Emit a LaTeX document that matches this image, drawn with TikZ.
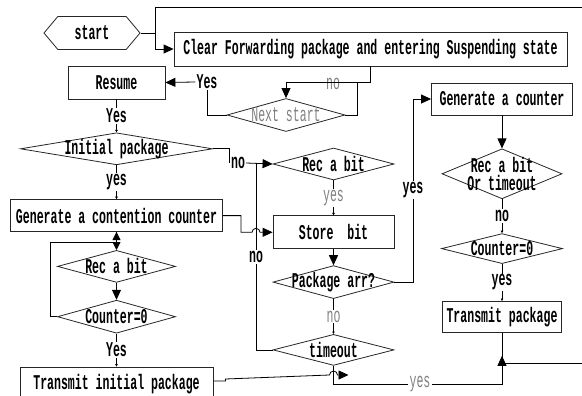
\documentclass[tikz,border=0pt]{standalone}
\usepackage{fontspec}
\setmainfont[FakeStretch=0.55]{Liberation Mono}
\usepackage{tikz}
\usetikzlibrary{arrows.meta,positioning,shapes.geometric,shapes.symbols}

\begin{document}
\begin{tikzpicture}[x=1pt,y=-1pt,font=\fontsize{21}{17}\selectfont\bfseries,>=Triangle]
\tikzset{box/.style={draw=black!85,line width=0.8pt,inner sep=0pt,minimum height=33pt},
  dia/.style={draw=black!85,line width=0.8pt,shape=diamond,inner sep=0pt,minimum width=121pt,minimum height=33pt},
  flow/.style={-{Triangle[length=10pt,width=9pt]},line width=0.8pt},
  tinyarr/.style={-{Triangle[length=2.5pt,width=2.5pt]},line width=0.8pt},
  gtext/.style={text=black!50,font=\fontsize{21}{17}\selectfont\mdseries},
  lbl/.style={fill=white,inner sep=1pt},
  glbl/.style={lbl,gtext}}
\useasboundingbox (0,0) rectangle (582,396);
% top row
\node[draw=black!85,line width=0.8pt,signal,signal to=west and east,signal pointer angle=100,inner sep=0pt,minimum width=96pt,minimum height=33pt] (start) at (92,33) {start};
\node[box,minimum width=393pt,minimum height=34pt] (clear) at (370.5,49) {Clear Forwarding package and entering Suspending state};
\node[box,minimum width=97pt] (resume) at (116.5,82.5) {Resume};
\node[dia,minimum width=118pt,label={[gtext]center:Next start}] (next) at (286,115) {};
% left column
\node[dia,minimum width=192pt,minimum height=32pt,below=33pt of resume,label=center:Initial package] (init) {};
\node[box,minimum width=212pt,minimum height=32pt,below=34pt of init] (cont) {Generate a contention counter};
\node[dia,minimum width=118pt,minimum height=32pt,below=18pt of cont,label=center:Rec a bit] (recL) {};
\node[dia,minimum width=118pt,below=17pt of recL,label={center:{Counter=0}}] (cntL) {};
\node[box,minimum width=193pt,minimum height=34pt,below=33pt of cntL] (tinit) {Transmit initial package};
% middle column
\node[dia,minimum height=32pt,label=center:Rec a bit] (recM) at (333.5,164) {};
\node[box,minimum width=121pt,below=35pt of recM] (store) {Store\ \ bit};
\node[dia,below=16pt of store,label=center:Package arr?] (pkg) {};
\node[dia,minimum height=31pt,below=35pt of pkg,label=center:timeout] (tout) {};
% right column
\node[box,minimum width=141pt,minimum height=32pt] (gcnt) at (502,99) {Generate a counter};
\node[dia,minimum width=120pt,minimum height=50pt,below=33pt of gcnt,label={[align=center,font=\fontsize{21}{18.5}\selectfont\bfseries]center:Rec a bit\\Or timeout}] (recto) {};
\node[dia,minimum height=30pt,below=34pt of recto,label={center:{Counter=0}}] (cntR) {};
\node[box,minimum width=119pt,minimum height=31pt,below=37pt of cntR] (tpkg) {Transmit package};
% loose labels
\node[lbl] (y1) at (207,82) {Yes};
\node[gtext] (no0) at (333,84) {no};
\node[lbl] (no1) at (238,163) {no};
\node[lbl] (no2) at (256,257) {no};
\node[lbl] (y3) at (413,190) {yes};
\node[glbl] (y4) at (420,384) {yes};
\coordinate (edgeT) at (582,7);
\coordinate (edgeB) at (582,363);
% connectors
\draw[line width=0.8pt] (start.east) -- ++(15,0) coordinate (split) |- (edgeT);
\draw[flow] (split) |- (clear.west);
\draw[flow] (clear.south) -- ++(0,16) -| (next.north);
\draw[line width=0.8pt] (next.east) -| ++(12,-33);
\draw[line width=0.8pt] (next.west) -| (y1.south);
\draw[flow] (y1.west) -- (resume.east);
\draw[tinyarr] (resume) -- node[lbl]{Yes} (init);
\draw[tinyarr] (init) -- node[lbl]{yes} (cont);
\draw[line width=0.8pt] (init.east) -| (no1.west);
\draw[flow] (no1.east) -- (recM.west);
\draw[flow] (cont.east) -- ++(18,0) |- ([xshift=-4pt]no2 |- store.west) arc[start angle=180,end angle=0,radius=4pt] -- (store.west);
\draw[line width=0.8pt] (tout.west) -| (no2.south);
\draw[line width=0.8pt] (no2.north) -- (no2 |- recM.west);
\draw[flow,-{Triangle[length=8pt,width=8pt]}] (cntL.west) -- ++(-7,0) |- ([yshift=-10pt]cont.south) -- (cont.south);
\draw[flow,-{Triangle[length=8pt,width=8pt]}] (cont.south) -- (recL.north);
\draw[flow] (recL) -- (cntL);
\draw[tinyarr] (cntL) -- node[lbl]{Yes} (tinit);
\draw[tinyarr] (recM) -- node[glbl]{yes} (store);
\draw[flow] (store) -- (pkg);
\draw[tinyarr] (pkg) -- node[glbl]{no} (tout);
\draw[line width=0.8pt] (pkg.east) -| (y3.south);
\draw[flow] (y3.north) |- (gcnt.west);
\draw[flow] (gcnt) -- (recto);
\draw[tinyarr] (recto) -- node[lbl]{no} (cntR);
\draw[tinyarr] (cntR) -- node[lbl]{yes} (tpkg);
\draw[line width=0.8pt] (tout.south) |- (y4.west);
\draw[flow] (y4.east) -| ([yshift=-23pt]tpkg.south);
\draw[line width=0.8pt] (tpkg.south) |- (edgeB);
\draw[flow] ([yshift=3pt]tinit.east) -- ++(12,0) -- ++(0,-2) -- ([xshift=-4pt]tout.south |- 0,375) arc[start angle=180,end angle=0,radius=4pt] -- ([xshift=15pt]tout.south |- 0,375);
\end{tikzpicture}
\end{document}
